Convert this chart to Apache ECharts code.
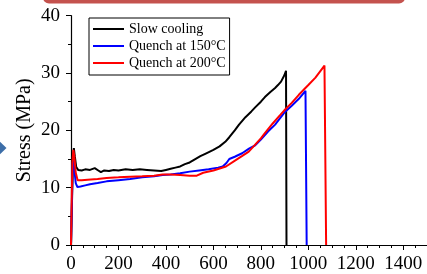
<!DOCTYPE html>
<html>
<head>
<meta charset="utf-8">
<script src="https://cdn.jsdelivr.net/npm/echarts@6/dist/echarts.min.js"></script>
<style>html,body{margin:0;padding:0;background:#fff;}#c{width:427px;height:274px;}</style>
</head>
<body>
<div id="c"></div>
<script>
var seriesNames = ['Slow cooling', 'Quench at 150°C', 'Quench at 200°C'];
var xTicks = [0, 200, 400, 600, 800, 1000, 1200, 1400];
var yTicks = [0, 10, 20, 30, 40];

var slowX = [0,5,9,12,16,22,30,45,60,80,100,115,126,140,160,180,200,230,260,290,320,350,380,400,420,440,460,480,500,520,545,570,600,626,650,667,690,708,735,760,776,800,817,840,860,872,885,899,906,908];
var slowY = [0,9,15.5,16.9,15.5,13.6,13.1,13.0,13.2,13.1,13.4,13.0,12.7,13.0,12.9,13.1,13.0,13.2,13.1,13.2,13.1,13.0,12.9,13.1,13.3,13.5,13.7,14.1,14.4,14.9,15.5,16.0,16.6,17.2,18.0,18.8,20.0,21.0,22.3,23.3,24.0,25.0,25.8,26.7,27.4,27.9,28.5,29.6,30.4,0];

var q150X = [0,4,7,10,14,20,27,40,60,80,112,150,200,249,300,350,386,420,460,500,540,580,620,639,655,667,690,721,750,776,800,830,860,899,930,960,988,992,993];
var q150Y = [0,8,14.2,15.0,13.2,10.8,10.1,10.2,10.4,10.6,10.8,11.1,11.3,11.5,11.8,12.0,12.2,12.3,12.5,12.8,13.0,13.2,13.5,13.7,14.3,15.0,15.4,16.0,16.8,17.4,18.4,19.8,21.0,23.1,24.3,25.5,26.9,26.6,0];

var q200X = [0,3,6,10,14,20,28,45,70,112,150,200,249,300,350,386,420,460,500,530,557,600,653,694,720,749,776,800,817,850,880,899,930,960,1000,1030,1068,1072,1075];
var q200Y = [0,8,14.5,16.6,15.5,12.6,11.3,11.3,11.4,11.5,11.7,11.8,11.9,12.0,12.1,12.3,12.3,12.2,12.1,12.1,12.6,13.0,13.7,14.8,15.5,16.3,17.5,18.6,19.5,21.2,22.6,23.5,24.8,26.2,27.9,29.2,31.3,31.1,0];

function pairs(xs, ys) { return xs.map(function (x, i) { return [x, ys[i]]; }); }

var font = 'Liberation Serif';
var chart = echarts.init(document.getElementById('c'), null, {renderer: 'canvas'});
chart.setOption({
  animation: false,
  backgroundColor: '#fff',
  grid: {left: 71, right: -9, top: 15.7, bottom: 28.5, containLabel: false},
  legend: {
    orient: 'vertical', left: 89, top: 18,
    data: seriesNames,
    itemWidth: 31, itemHeight: 14, itemGap: 3,
    padding: [4, 4, 5, 3],
    borderColor: '#000', borderWidth: 1,
    itemStyle: {opacity: 0},
    lineStyle: {width: 2},
    textStyle: {fontFamily: font, fontSize: 14, color: '#000'}
  },
  xAxis: {
    type: 'value', min: 0, max: 1500, interval: 200,
    axisLine: {show: true, lineStyle: {color: '#000', width: 1.2}},
    axisTick: {show: true, inside: false, length: 5, lineStyle: {color: '#000'}},
    minorTick: {show: true, splitNumber: 4, length: 3, lineStyle: {color: '#000'}},
    splitLine: {show: false},
    axisLabel: {
      showMaxLabel: false, margin: 10, fontFamily: font, fontSize: 19, color: '#000',
      formatter: function (v) { return xTicks.indexOf(v) >= 0 ? String(v) : ''; }
    }
  },
  yAxis: {
    type: 'value', min: 0, max: 40, interval: 10,
    name: 'Stress (MPa)', nameLocation: 'middle', nameGap: 36, nameRotate: 90,
    nameMoveOverlap: false,
    nameTextStyle: {fontFamily: font, fontSize: 20, color: '#000'},
    axisLine: {show: true, lineStyle: {color: '#000', width: 1.2}},
    axisTick: {show: true, inside: false, length: 5, lineStyle: {color: '#000'}},
    minorTick: {show: true, splitNumber: 2, length: 3, lineStyle: {color: '#000'}},
    splitLine: {show: false},
    axisLabel: {
      margin: 11, fontFamily: font, fontSize: 19, color: '#000',
      formatter: function (v) { return yTicks.indexOf(v) >= 0 ? String(v) : ''; }
    }
  },
  series: [
    {name: seriesNames[0], type: 'line', data: pairs(slowX, slowY), symbol: 'none', lineStyle: {color: '#000', width: 2}, itemStyle: {color: '#000'}},
    {name: seriesNames[1], type: 'line', data: pairs(q150X, q150Y), symbol: 'none', lineStyle: {color: '#0000ff', width: 2}, itemStyle: {color: '#0000ff'}},
    {name: seriesNames[2], type: 'line', data: pairs(q200X, q200Y), symbol: 'none', lineStyle: {color: '#ff0000', width: 2}, itemStyle: {color: '#ff0000'}}
  ],
  graphic: [
    {type: 'rect', shape: {x: 43, y: -10, width: 362, height: 13.5, r: 6}, style: {fill: '#c4524e'}},
    {type: 'polygon', shape: {points: [[-12, 130], [6.5, 148], [-12, 166]]}, style: {fill: '#3d6ea8'}}
  ]
});
</script>
</body>
</html>
